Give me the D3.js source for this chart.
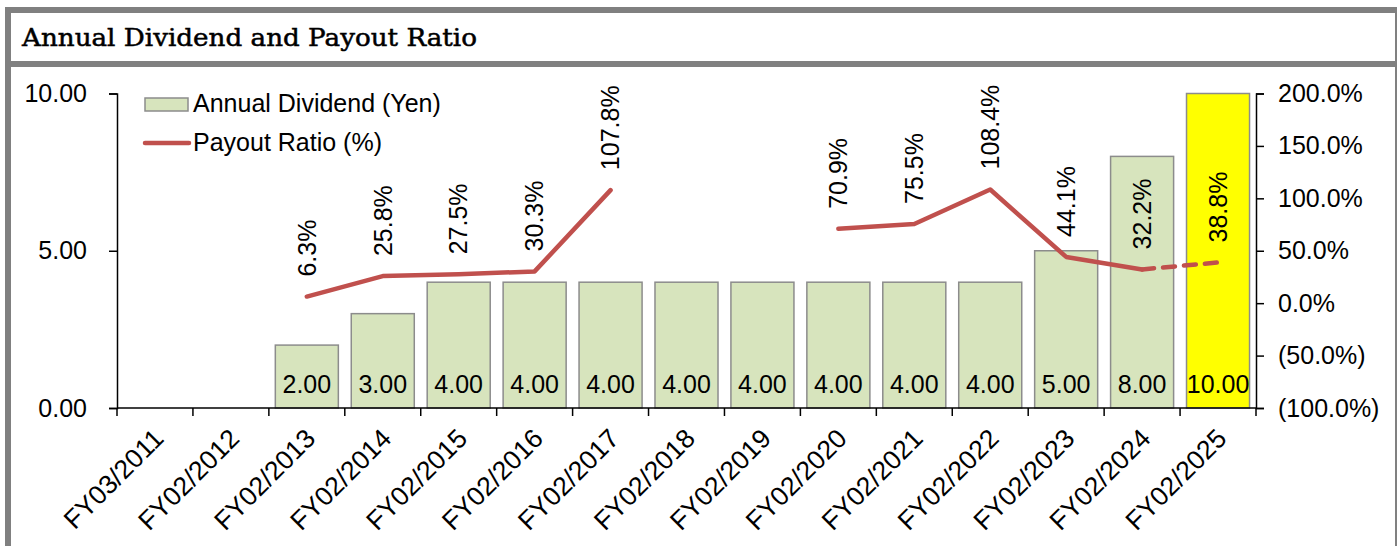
<!DOCTYPE html>
<html lang="en">
<head>
<meta charset="UTF-8">
<title>Annual Dividend and Payout Ratio</title>
<script src="https://d3js.org/d3.v7.min.js"></script>
<style>
  body { margin: 0; background: #fff; }
  text { font-family: "Liberation Sans", Arial, sans-serif; }
</style>
</head>
<body>
<svg id="chart" width="1397" height="546"></svg>
<script>
// data
const categories = ["FY03/2011", "FY02/2012", "FY02/2013", "FY02/2014", "FY02/2015", "FY02/2016",
  "FY02/2017", "FY02/2018", "FY02/2019", "FY02/2020", "FY02/2021", "FY02/2022",
  "FY02/2023", "FY02/2024", "FY02/2025"];
const dividends = [null, null, 2, 3, 4, 4, 4, 4, 4, 4, 4, 4, 5, 8, 10];
const payout = [null, null, 6.3, 25.8, 27.5, 30.3, 107.8, null, null, 70.9, 75.5, 108.4, 44.1, 32.2, 38.8];
const forecastIndex = 14; // last year is a forecast
const leftTicks = [0, 5, 10];
const rightTicks = [-100, -50, 0, 50, 100, 150, 200];

const svg = d3.select("#chart");
const fs = "25px";

// frame
svg.append("rect").attr("x", 5).attr("y", 7).attr("width", 1392).attr("height", 6).attr("fill", "#808080");
svg.append("rect").attr("x", 5).attr("y", 7).attr("width", 6).attr("height", 539).attr("fill", "#808080");
svg.append("rect").attr("x", 1395).attr("y", 7).attr("width", 2).attr("height", 539).attr("fill", "#808080");
svg.append("rect").attr("x", 5).attr("y", 61).attr("width", 1392).attr("height", 6).attr("fill", "#808080");

svg.append("text")
  .attr("x", 22).attr("y", 46)
  .attr("textLength", 455).attr("lengthAdjust", "spacingAndGlyphs")
  .style("font-family", "'DejaVu Serif', 'Liberation Serif', serif")
  .style("font-size", "24px")
  .attr("stroke", "#000").attr("stroke-width", 0.5)
  .text("Annual Dividend and Payout Ratio");

// scales
const plotLeft = 117, plotRight = 1256, plotTop = 93.5, plotBottom = 408;
const x = d3.scaleBand().domain(categories).range([plotLeft, plotRight]).paddingInner(0.17).paddingOuter(0.085);
const xStep = d3.scaleBand().domain(categories).range([plotLeft, plotRight]);
const yL = d3.scaleLinear().domain([0, 10]).range([plotBottom, plotTop]);
const yR = d3.scaleLinear().domain([-100, 200]).range([plotBottom, plotTop]);

// bars
const barData = categories.map((c, i) => ({ c, v: dividends[i], i })).filter(d => d.v != null);
svg.append("g").selectAll("rect").data(barData).join("rect")
  .attr("x", d => x(d.c))
  .attr("y", d => yL(d.v))
  .attr("width", x.bandwidth())
  .attr("height", d => yL(0) - yL(d.v))
  .attr("fill", d => d.i === forecastIndex ? "#ffff00" : "#d7e4bd")
  .attr("stroke", "#8c8c8c").attr("stroke-width", 1.5);

svg.append("g").selectAll("text").data(barData).join("text")
  .attr("x", d => x(d.c) + x.bandwidth() / 2)
  .attr("y", plotBottom - 15)
  .attr("text-anchor", "middle")
  .style("font-size", fs)
  .text(d => d.v.toFixed(2));

// axes
const fmtR = v => v < 0 ? `(${Math.abs(v).toFixed(1)}%)` : `${v.toFixed(1)}%`;
const axisStyle = g => {
  g.select(".domain").attr("stroke", "#000").attr("stroke-width", 1.5);
  g.selectAll(".tick line").attr("stroke", "#000").attr("stroke-width", 1.5);
  g.selectAll(".tick text").style("font-size", fs).attr("fill", "#000")
    .style("font-family", "'Liberation Sans', Arial, sans-serif");
};

svg.append("g").attr("transform", `translate(${plotLeft},0)`)
  .call(d3.axisLeft(yL).tickValues(leftTicks).tickFormat(d3.format(".2f")).tickSizeOuter(0).tickSize(8).tickPadding(22))
  .call(axisStyle);

svg.append("g").attr("transform", `translate(${plotRight},0)`)
  .call(d3.axisRight(yR).tickValues(rightTicks).tickFormat(fmtR).tickSizeOuter(0).tickSize(8).tickPadding(14))
  .call(axisStyle);

const xAxis = svg.append("g").attr("transform", `translate(0,${plotBottom})`)
  .call(d3.axisBottom(xStep).tickSize(0).tickSizeOuter(0))
  .call(axisStyle);
xAxis.select(".domain").attr("d", `M${plotLeft},0H${plotRight}`);
// boundary ticks
xAxis.selectAll(".bnd").data(d3.range(categories.length + 1)).join("line")
  .attr("class", "bnd")
  .attr("x1", i => plotLeft + i * xStep.step()).attr("x2", i => plotLeft + i * xStep.step())
  .attr("y1", 0).attr("y2", 8)
  .attr("stroke", "#000").attr("stroke-width", 1.5);
xAxis.selectAll(".tick text")
  .style("font-size", "26.5px")
  .attr("text-anchor", "end")
  .attr("transform", "translate(-3,19) rotate(-45)")
  .attr("dy", "0.7em").attr("y", 0);

// payout line
const cx = i => xStep(categories[i]) + xStep.bandwidth() / 2;
const pts = payout.map((v, i) => ({ v, i }));
const line = d3.line().defined(d => d.v != null).x(d => cx(d.i)).y(d => yR(d.v));

svg.append("path")
  .datum(pts.filter(d => d.i < forecastIndex))
  .attr("fill", "none").attr("stroke", "#c0504d").attr("stroke-width", 4.5)
  .attr("stroke-linecap", "round").attr("stroke-linejoin", "round")
  .attr("d", line);

svg.append("path")
  .datum(pts.filter(d => d.i >= forecastIndex - 1))
  .attr("fill", "none").attr("stroke", "#c0504d").attr("stroke-width", 4.5)
  .attr("stroke-dasharray", "12,9").attr("stroke-linecap", "round")
  .attr("d", line);

// payout labels
svg.append("g").selectAll("text").data(pts.filter(d => d.v != null)).join("text")
  .attr("transform", d => `translate(${cx(d.i)},${yR(d.v) - 20}) rotate(-90)`)
  .attr("dy", "0.35em")
  .style("font-size", fs)
  .text(d => d.v.toFixed(1) + "%");

// legend
svg.append("rect").attr("x", 145).attr("y", 98).attr("width", 43).attr("height", 13)
  .attr("fill", "#d7e4bd").attr("stroke", "#8c8c8c").attr("stroke-width", 1.5);
svg.append("text").attr("x", 193).attr("y", 112).style("font-size", fs).text("Annual Dividend (Yen)");
svg.append("line").attr("x1", 145).attr("x2", 189).attr("y1", 143).attr("y2", 143)
  .attr("stroke", "#c0504d").attr("stroke-width", 4.5).attr("stroke-linecap", "round");
svg.append("text").attr("x", 193).attr("y", 151).style("font-size", fs).text("Payout Ratio (%)");
</script>
</body>
</html>
